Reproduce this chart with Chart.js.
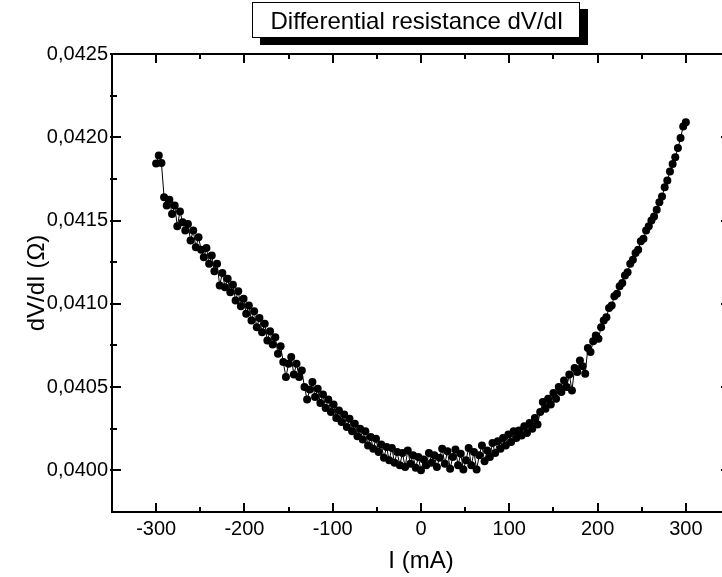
<!DOCTYPE html>
<html>
<head>
<meta charset="utf-8">
<script src="https://cdn.jsdelivr.net/npm/chart.js@4/dist/chart.umd.min.js"></script>
<style>
  html, body { margin: 0; padding: 0; background: #fff; overflow: hidden; }
  #wrap { width: 722px; height: 577px; position: relative; overflow: hidden; }
  #chart { display: block; }
</style>
</head>
<body>
<div id="wrap"><canvas id="chart" width="740" height="577"></canvas></div>
<script>
// Bias current sweep (mA)
const currentMA = [
  -300,-297,-294,-291,-288,-285,-282,-279,-276,-273,-270,-267,-264,-261,-258,-255,-252,-249,-246,-243,
  -240,-237,-234,-231,-228,-225,-222,-219,-216,-213,-210,-207,-204,-201,-198,-195,-192,-189,-186,-183,
  -180,-177,-174,-171,-168,-165,-162,-159,-156,-153,-150,-147,-144,-141,-138,-135,-132,-129,-126,-123,
  -120,-117,-114,-111,-108,-105,-102,-99,-96,-93,-90,-87,-84,-81,-78,-75,-72,-69,-66,-63,
  -60,-57,-54,-51,-48,-45,-42,-39,-36,-33,-30,-27,-24,-21,-18,-15,-12,-9,-6,-3,
  0,3,6,9,12,15,18,21,24,27,30,33,36,39,42,45,48,51,54,57,
  60,63,66,69,72,75,78,81,84,87,90,93,96,99,102,105,108,111,114,117,
  120,123,126,129,132,135,138,141,144,147,150,153,156,159,162,165,168,171,174,177,
  180,183,186,189,192,195,198,201,204,207,210,213,216,219,222,225,228,231,234,237,
  240,243,246,249,252,255,258,261,264,267,270,273,276,279,282,285,288,291,294,297,
  300
];

// Measured differential resistance dV/dI (ohm)
const dVdI = [
  0.041843,0.041890,0.041845,0.041640,0.041590,0.041625,0.041540,0.041590,0.041465,0.041555,
  0.041490,0.041440,0.041480,0.041380,0.041440,0.041340,0.041400,0.041325,0.041280,0.041335,
  0.041240,0.041290,0.041195,0.041240,0.041110,0.041185,0.041100,0.041150,0.041070,0.041115,
  0.041020,0.041075,0.040985,0.041030,0.040940,0.040990,0.040900,0.040955,0.040860,0.040915,
  0.040830,0.040880,0.040780,0.040835,0.040755,0.040800,0.040700,0.040745,0.040650,0.040560,
  0.040640,0.040680,0.040575,0.040640,0.040560,0.040600,0.040500,0.040425,0.040485,0.040530,
  0.040440,0.040490,0.040405,0.040455,0.040375,0.040425,0.040350,0.040395,0.040315,0.040360,
  0.040290,0.040335,0.040260,0.040310,0.040235,0.040280,0.040205,0.040250,0.040185,0.040235,
  0.040150,0.040200,0.040130,0.040190,0.040110,0.040155,0.040075,0.040140,0.040060,0.040135,
  0.040045,0.040110,0.040030,0.040105,0.040020,0.040120,0.040040,0.040090,0.040015,0.040080,
  0.040000,0.040065,0.040030,0.040105,0.040045,0.040090,0.040020,0.040075,0.040130,0.040040,
  0.040115,0.040010,0.040080,0.040125,0.040030,0.040100,0.040005,0.040060,0.040135,0.040030,
  0.040110,0.040005,0.040090,0.040150,0.040055,0.040120,0.040080,0.040165,0.040105,0.040175,
  0.040130,0.040195,0.040150,0.040215,0.040170,0.040235,0.040195,0.040240,0.040210,0.040265,
  0.040225,0.040285,0.040250,0.040315,0.040275,0.040350,0.040410,0.040370,0.040430,0.040395,
  0.040465,0.040430,0.040500,0.040470,0.040540,0.040500,0.040575,0.040480,0.040615,0.040590,
  0.040660,0.040625,0.040580,0.040735,0.040710,0.040775,0.040810,0.040790,0.040860,0.040900,
  0.040920,0.040975,0.040990,0.041045,0.041060,0.041105,0.041125,0.041170,0.041190,0.041240,
  0.041265,0.041305,0.041325,0.041375,0.041390,0.041440,0.041465,0.041500,0.041525,0.041565,
  0.041610,0.041645,0.041700,0.041740,0.041795,0.041840,0.041880,0.041935,0.041995,0.042065,
  0.042090
];

const xMajorTicks = [-300, -200, -100, 0, 100, 200, 300];
const xMinorTicks = [-350, -250, -150, -50, 50, 150, 250, 350];
const yMajorTicks = [0.0400, 0.0405, 0.0410, 0.0415, 0.0420, 0.0425];
const yMinorTicks = [0.04025, 0.04075, 0.04125, 0.04175, 0.04225];

const chartTitle = 'Differential resistance dV/dI';
const xTitle = 'I (mA)';
const yTitle = 'dV/dI (\u03A9)';

const FONT = '"Liberation Sans", Arial, Helvetica, sans-serif';

// Frame with inward tick marks on all four sides
const framePlugin = {
  id: 'frame',
  afterDraw(chart) {
    const { ctx, chartArea: a, scales: { x, y } } = chart;
    ctx.save();
    ctx.strokeStyle = '#000';
    ctx.lineCap = 'butt';
    ctx.lineWidth = 2;
    ctx.strokeRect(a.left, a.top, a.right - a.left, a.bottom - a.top);

    const major = 9, minor = 5;
    ctx.beginPath();
    const vTick = (v, len) => {
      const px = Math.round(x.getPixelForValue(v));
      ctx.moveTo(px, a.bottom); ctx.lineTo(px, a.bottom - len);
      ctx.moveTo(px, a.top); ctx.lineTo(px, a.top + len);
    };
    const hTick = (v, len) => {
      const py = Math.round(y.getPixelForValue(v));
      ctx.moveTo(a.left - 2, py); ctx.lineTo(a.left + len, py);
      ctx.moveTo(a.right, py); ctx.lineTo(a.right - len, py);
    };
    xMajorTicks.forEach(v => vTick(v, major));
    xMinorTicks.forEach(v => vTick(v, minor));
    yMajorTicks.forEach(v => hTick(v, major));
    yMinorTicks.forEach(v => hTick(v, minor));
    ctx.stroke();
    ctx.restore();
  }
};

// Boxed title with a solid drop shadow
const boxTitlePlugin = {
  id: 'boxTitle',
  afterDraw(chart) {
    const { ctx } = chart;
    const bx = 252, by = 2, bw = 328, bh = 36, sh = 8;
    ctx.save();
    ctx.fillStyle = '#000';
    ctx.fillRect(bx + sh, by + 7, bw, bh);
    ctx.fillStyle = '#fff';
    ctx.fillRect(bx, by, bw, bh);
    ctx.strokeStyle = '#000';
    ctx.lineWidth = 1;
    ctx.strokeRect(bx + 0.5, by + 0.5, bw - 1, bh - 1);
    ctx.fillStyle = '#000';
    ctx.font = '24px ' + FONT;
    ctx.textAlign = 'center';
    ctx.textBaseline = 'alphabetic';
    ctx.fillText(chartTitle, bx + bw / 2 + 1, 28.5);
    ctx.restore();
  }
};

const fmt = v => v.toFixed(4).replace('.', ',');

new Chart(document.getElementById('chart'), {
  type: 'scatter',
  data: {
    datasets: [{
      data: currentMA.map((c, i) => ({ x: c, y: dVdI[i] })),
      showLine: true,
      borderColor: '#000',
      borderWidth: 1,
      backgroundColor: '#000',
      pointRadius: 4,
      pointBorderWidth: 0,
      pointBackgroundColor: '#000'
    }]
  },
  options: {
    responsive: false,
    animation: false,
    devicePixelRatio: 1,
    layout: { padding: { left: 0, top: 54, right: 10, bottom: 0 } },
    plugins: {
      legend: { display: false },
      tooltip: { enabled: false },
      title: { display: false }
    },
    scales: {
      x: {
        type: 'linear',
        min: -350,
        max: 350,
        grid: { display: false, drawTicks: false },
        border: { display: false },
        afterFit(s) { s.height = 65; },
        afterBuildTicks(s) { s.ticks = xMajorTicks.map(v => ({ value: v })); },
        ticks: {
          padding: 5,
          color: '#000',
          font: { family: FONT, size: 20 },
          maxRotation: 0,
          callback: v => String(v)
        },
        title: {
          display: true,
          text: xTitle,
          color: '#000',
          font: { family: FONT, size: 24 },
          padding: { top: 0, bottom: 1 }
        }
      },
      y: {
        type: 'linear',
        min: 0.03975,
        max: 0.0425,
        grid: { display: false, drawTicks: false },
        border: { display: false },
        afterFit(s) { s.width = 112; },
        afterBuildTicks(s) { s.ticks = yMajorTicks.map(v => ({ value: v })); },
        ticks: {
          padding: 4,
          color: '#000',
          font: { family: FONT, size: 20 },
          callback: v => fmt(v)
        },
        title: {
          display: true,
          text: yTitle,
          color: '#000',
          font: { family: FONT, size: 24 },
          padding: { top: 23, bottom: 0 }
        }
      }
    }
  },
  plugins: [framePlugin, boxTitlePlugin]
});
</script>
</body>
</html>
